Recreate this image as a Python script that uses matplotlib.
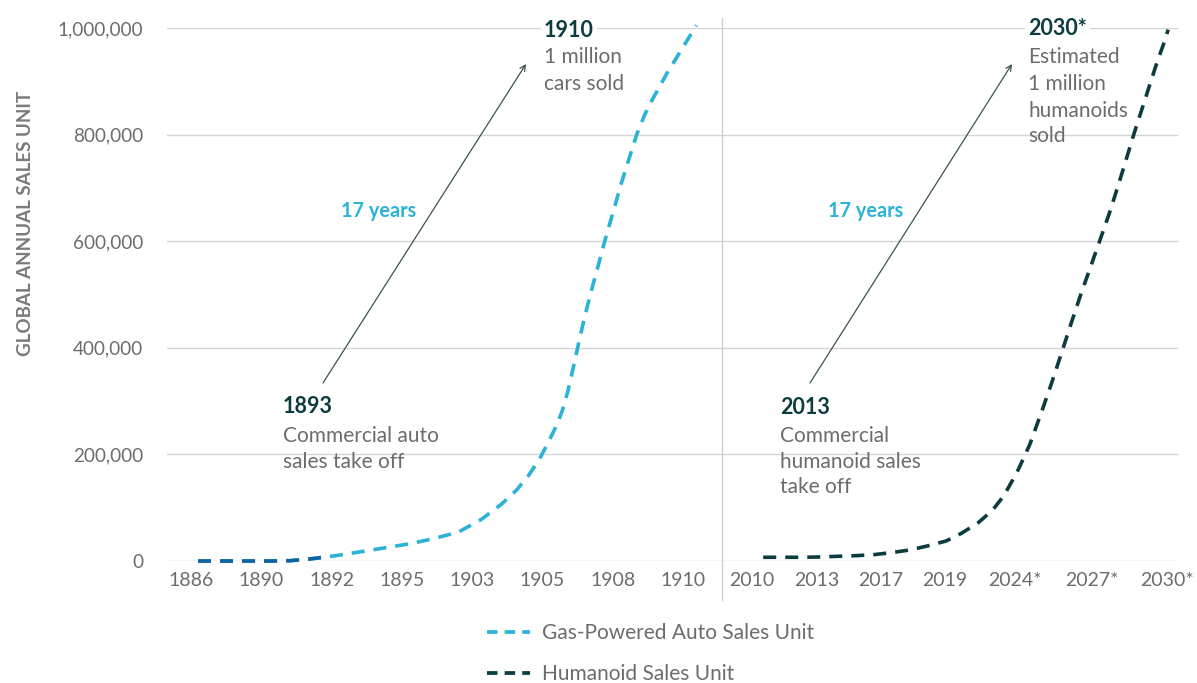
import matplotlib
matplotlib.use("Agg")
import matplotlib.pyplot as plt
from matplotlib.lines import Line2D

plt.rcParams['font.family'] = ['Lato', 'DejaVu Sans']

# ---------------- data ----------------
auto_labels = ["1886", "1890", "1892", "1895", "1903", "1905", "1908", "1910"]
humanoid_labels = ["2010", "2013", "2017", "2019", "2024*", "2027*", "2030*"]

# series positions are on the category scale (fractional category index)
auto_pos = [0.10, 1.15, 1.41, 1.67, 1.95, 2.21, 2.48, 2.80, 3.14, 3.47, 3.80, 4.13,
            4.42, 4.63, 4.80, 4.96, 5.08, 5.21, 5.29, 5.36, 5.42, 5.48, 5.53, 5.59,
            5.67, 5.78, 5.89, 6.12, 6.34, 6.45, 6.56, 6.77, 6.98, 7.19]
auto_sales = [0, 0, 600, 3500, 8000, 13000, 18800, 25600, 33000, 42600, 54000, 78000,
              107000, 133000, 160000, 192000, 222000, 257000, 285000, 318000, 352000,
              388000, 418000, 452000, 495000, 548000, 602000, 708000, 800000, 836000,
              865000, 915000, 960000, 1005000]

humanoid_pos = [8.14, 8.70, 8.93, 9.20, 9.46, 9.72, 9.98, 10.24, 10.50, 10.74, 10.96,
                11.20, 11.40, 11.56, 11.68, 11.77, 11.93, 12.10, 12.24, 12.39, 12.53,
                12.67, 12.81, 12.93, 13.07, 13.19, 13.30, 13.41, 13.52, 13.63, 13.74,
                13.83, 13.90]
humanoid_sales = [7000, 7000, 7500, 8800, 10000, 12000, 16000, 21000, 29000, 37500,
                  52000, 72000, 95000, 122000, 150000, 172000, 218000, 280000, 333000,
                  393000, 450000, 505000, 557000, 602000, 655000, 705000, 752000,
                  800000, 845000, 890000, 935000, 968000, 997000]

y_ticks = [0, 200000, 400000, 600000, 800000, 1000000]

# ---------------- layout ----------------
W, H = 1197, 683
CYAN = "#2ab3d6"
DARKBLUE = "#0f62a0"
TEAL = "#0c3b40"
GRAY = "#6c6c6c"
GRID = "#d5d5d5"

fig = plt.figure(figsize=(W / 100, H / 100), dpi=100)
ax = fig.add_axes([167 / W, 1 - 561 / H, (1178 - 167) / W, 533 / H])

tick_pos = [0, 1, 2, 3, 4, 5, 6, 7, 7.98, 8.905, 9.815, 10.725, 11.72, 12.82, 13.89]
divider_pos = 7.553
ax.set_xlim(-0.341, 14.04)
ax.set_ylim(0, 1000000)

for s in ax.spines.values():
    s.set_visible(False)

ax.set_xticks(tick_pos)
ax.set_xticklabels(auto_labels + humanoid_labels)
ax.set_yticks(y_ticks)
ax.set_yticklabels([f"{v:,}" for v in y_ticks])
ax.tick_params(axis='x', length=0, pad=8, labelsize=14, labelcolor=GRAY)
ax.tick_params(axis='y', length=0, pad=17, labelsize=13.6, labelcolor=GRAY)
ax.yaxis.grid(True, color=GRID, lw=1)
ax.set_axisbelow(True)

ax.axvline(divider_pos, ymin=-0.073, ymax=1.019, color="#cfcfcf", lw=1, clip_on=False)

lw = 2.6
dash = (3.6, 2.5)
ax.plot(auto_pos, auto_sales, color=CYAN, lw=lw, dashes=dash,
        dash_capstyle='butt', clip_on=False, zorder=3)
# darker start of the auto curve (prefix of the same path -> same dash phase)
ax.plot(auto_pos[:5], auto_sales[:5], color=DARKBLUE, lw=lw, dashes=dash,
        dash_capstyle='butt', clip_on=False, zorder=4)
ax.plot(humanoid_pos, humanoid_sales, color=TEAL, lw=lw, dashes=dash,
        dash_capstyle='butt', clip_on=False, zorder=3)

ax.set_ylabel("GLOBAL ANNUAL SALES UNIT", fontsize=13.5, fontweight='bold',
              color="#7a7a7a")
ax.yaxis.set_label_coords((34 - 167) / 1011, (561 - 223) / 533)


def fp(x, y):
    return (x / W, 1 - y / H)


def year(x, y, s):
    fig.text(*fp(x, y), s, fontsize=15.5, fontweight='bold', color=TEAL,
             ha='left', va='baseline',
             bbox=dict(facecolor='white', edgecolor='none', pad=2.5))


def body(x, y, s):
    fig.text(*fp(x, y), s, fontsize=15, color=GRAY, ha='left', va='baseline')


year(544, 37, "1910")
body(544, 63, "1 million")
body(544, 90, "cars sold")

year(283, 413, "1893")
body(283, 442, "Commercial auto")
body(283, 468, "sales take off")

year(780, 414, "2013")
body(780, 442, "Commercial")
body(780, 468, "humanoid sales")
body(780, 493, "take off")

year(1028, 35, "2030*")
body(1028, 63, "Estimated")
body(1028, 90, "1 million")
body(1028, 117, "humanoids")
body(1028, 142, "sold")

for cx in (379, 866):
    fig.text(*fp(cx, 211), "17 years", fontsize=14.3, fontweight='bold', color=CYAN,
             ha='center', va='center')

for (x1, y1, x2, y2) in [(323, 383, 526, 64), (810, 383, 1012, 64)]:
    ax.annotate("", xy=fp(x2, y2), xytext=fp(x1, y1), xycoords='figure fraction',
                textcoords='figure fraction',
                arrowprops=dict(arrowstyle='->', color="#3b5254", lw=0.9,
                                shrinkA=0, shrinkB=0, mutation_scale=10))

handles = [Line2D([], [], color=CYAN, lw=2.7, dashes=(2.8, 1.9), dash_capstyle='butt'),
           Line2D([], [], color=TEAL, lw=2.7, dashes=(2.8, 1.9), dash_capstyle='butt')]
fig.legend(handles, ["Gas-Powered Auto Sales Unit", "Humanoid Sales Unit"],
           loc='upper left', bbox_to_anchor=fp(487, 623), frameon=False,
           fontsize=15, labelcolor=GRAY, handlelength=2.06, handletextpad=0.58,
           borderpad=0, borderaxespad=0, labelspacing=1.0)

fig.savefig("out.png", dpi=100)
